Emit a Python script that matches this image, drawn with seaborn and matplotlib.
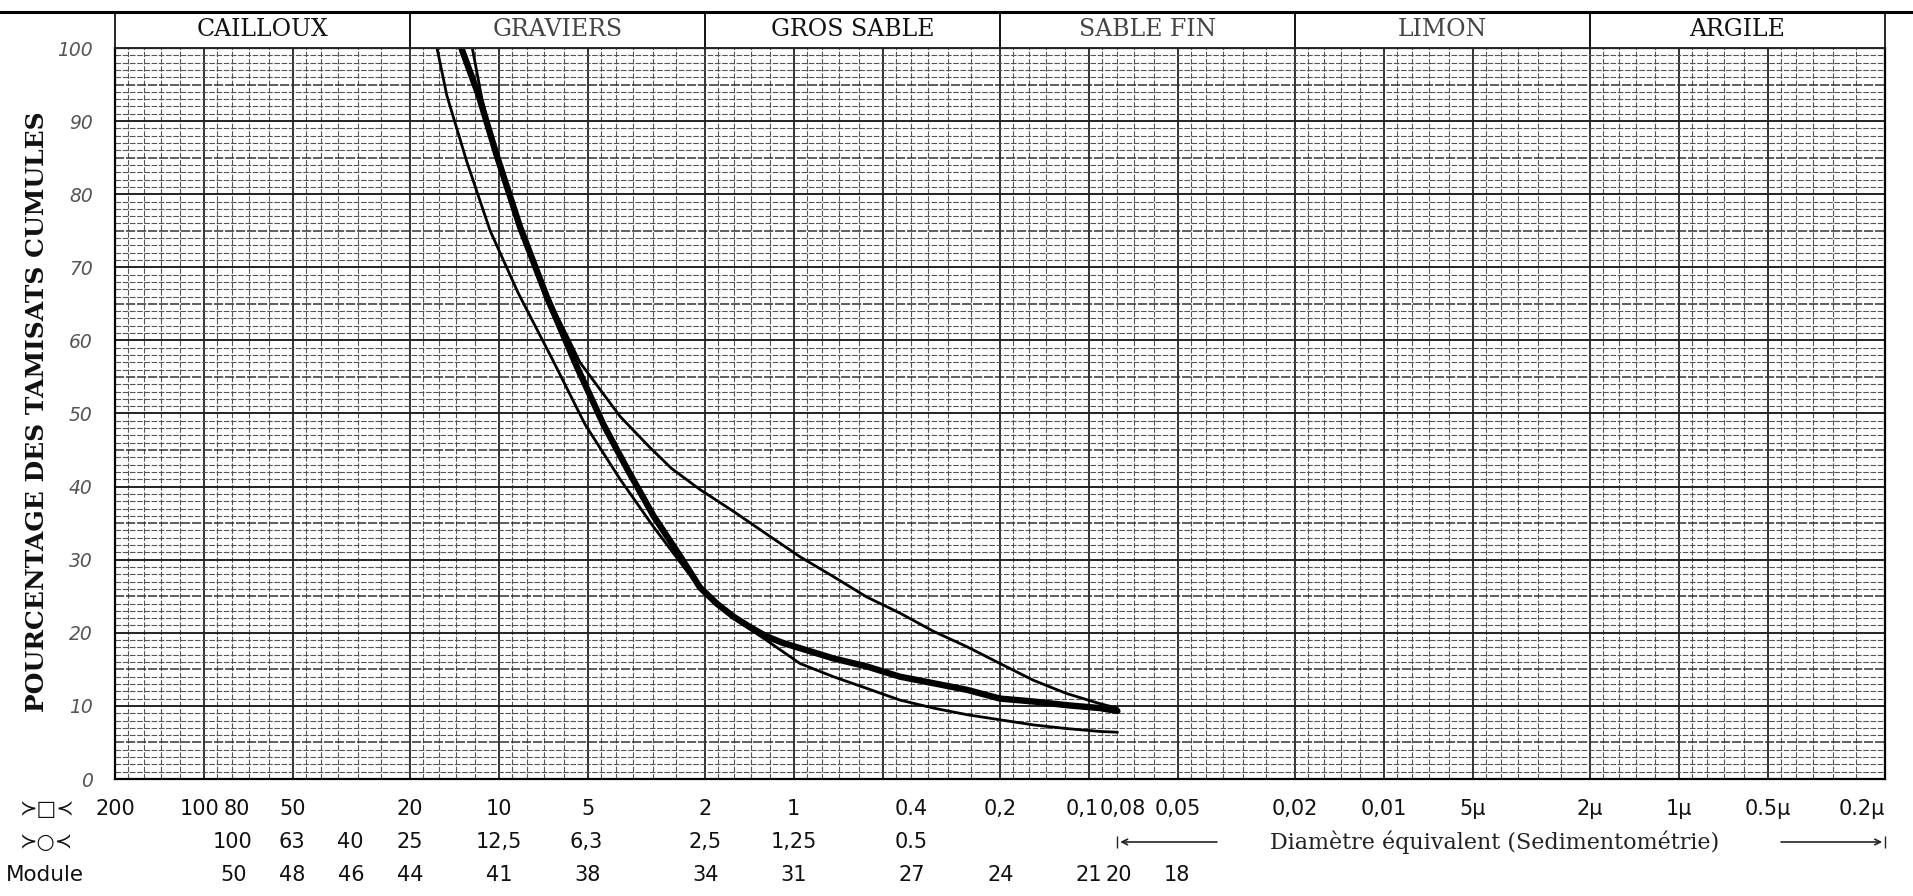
import numpy as np
import pandas as pd
import matplotlib
matplotlib.use("Agg")
import matplotlib.pyplot as plt
import matplotlib.transforms as mtransforms
from matplotlib.lines import Line2D
import seaborn as sns

# Courbes granulométriques : diamètre (mm) / tamisat cumulé (%)
fuseau_haut_d = [12.3, 11.4, 10.1, 8.4, 6.85, 5.85, 5.31, 3.88, 3.1, 2.6, 2.08, 1.60, 1.236, 0.953,
                 0.735, 0.566, 0.437, 0.336, 0.259, 0.2, 0.154, 0.119, 0.0916, 0.08]
fuseau_haut_p = [100, 93, 84.5, 75, 66, 60.5, 57.0, 49.6, 45.5, 42.5, 39.6, 36.6, 33.5, 30.4,
                 27.7, 24.9, 22.7, 20.2, 18.1, 15.8, 13.5, 11.7, 10.3, 9.7]

echantillon_d = [13.4, 11.7, 10.2, 8.47, 6.88, 5.45, 4.42, 3.68, 2.99, 2.43,
                 2.08, 1.825, 1.60, 1.41, 1.236, 1.086, 0.953, 0.735, 0.566, 0.437, 0.336,
                 0.259, 0.2, 0.154, 0.119, 0.0916, 0.08]
echantillon_p = [100, 93.5, 85.5, 75.5, 66.0, 56.5, 48.5, 42.5, 36.0, 30.5,
                 26.2, 24.0, 22.2, 20.8, 19.5, 18.6, 17.9, 16.5, 15.4, 14.0, 13.1,
                 12.2, 11.0, 10.6, 10.1, 9.7, 9.3]

fuseau_bas_d = [16.2, 15.0, 12.85, 10.7, 8.6, 6.6, 5.1, 3.88, 2.99, 2.31, 2.0, 1.6,
                1.24, 0.953, 0.735, 0.566, 0.437, 0.336, 0.259, 0.2, 0.154, 0.119, 0.0916, 0.08]
fuseau_bas_p = [100, 93.5, 84.5, 75.0, 66.5, 57.5, 48.5, 41.0, 34.5, 28.5, 25.6, 22.0,
                19.0, 15.8, 14.0, 12.4, 10.8, 9.7, 8.8, 8.1, 7.4, 6.9, 6.5, 6.4]

# Classes granulométriques (bornes en mm)
classes = ["CAILLOUX", "GRAVIERS", "GROS SABLE", "SABLE FIN", "LIMON", "ARGILE"]
class_bornes = [200, 20, 2, 0.2, 0.02, 0.002, 0.0002]

# Graduations en bas
tamis_val = [200, 100, 80, 50, 20, 10, 5, 2, 1, 0.4, 0.2, 0.1, 0.08, 0.05,
             0.02, 0.01, 0.005, 0.002, 0.001, 0.0005, 0.0002]
tamis_lbl = ["200", "100", "80", "50", "20", "10", "5", "2", "1", "0.4", "0,2", "0,1", "0,08", "0,05",
             "0,02", "0,01", "5µ", "2µ", "1µ", "0.5µ", "0.2µ"]
passoire_val = [100, 63, 40, 25, 12.5, 6.3, 2.5, 1.25, 0.5]
passoire_lbl = ["100", "63", "40", "25", "12,5", "6,3", "2,5", "1,25", "0.5"]
modules = [50, 48, 46, 44, 41, 38, 34, 31, 27, 24, 21, 20, 18]

W, H = 1913, 896
sns.set_style("white")
plt.rcParams['font.family'] = ['DejaVu Sans']

fig = plt.figure(figsize=(W / 100, H / 100), dpi=100)
ax = fig.add_axes([115 / W, 1 - 779 / H, 1770 / W, 731 / H])
ax.set_xscale('log')
ax.set_xlim(200, 0.0002)
ax.set_ylim(0, 100)

# papier semi-log
sub = [1, 1.2, 1.4, 1.6, 1.8, 2, 2.5, 3, 3.5, 4, 4.5, 5, 6, 7, 8, 9]
for k in range(-4, 3):
    for n in sub:
        v = n * 10.0 ** k
        if 0.0002 < v < 200:
            if n in (1, 2, 5):
                ax.axvline(v, color='#222222', lw=1.3, zorder=1)
            else:
                ax.axvline(v, color='#555555', lw=0.8, ls=(0, (5, 1.5)), zorder=1)
for p in range(0, 101):
    if p % 10 == 0:
        ax.axhline(p, color='#222222', lw=1.4, zorder=1)
    elif p % 5 == 0:
        ax.axhline(p, color='#333333', lw=1.1, ls=(0, (6, 1.2)), zorder=1)
    else:
        ax.axhline(p, color='#555555', lw=0.8, ls=(0, (5, 1.5)), zorder=1)

# courbes
curves = pd.DataFrame({
    'd': fuseau_haut_d + echantillon_d + fuseau_bas_d,
    'p': fuseau_haut_p + echantillon_p + fuseau_bas_p,
    'courbe': ['haut'] * len(fuseau_haut_d) + ['ech'] * len(echantillon_d) + ['bas'] * len(fuseau_bas_d),
})
for name, lw in [('haut', 2.0), ('bas', 2.0), ('ech', 4.6)]:
    sns.lineplot(data=curves[curves.courbe == name], x='d', y='p', sort=False, estimator=None,
                 color='black', lw=lw, ax=ax, zorder=5, solid_joinstyle='round', solid_capstyle='round')
ax.set_xlim(200, 0.0002)
ax.set_ylim(0, 100)

ax.set_xlabel('')
ax.set_ylabel('')
ax.set_xticks([])
ax.set_xticks([], minor=True)
ax.set_yticks(range(0, 101, 10))
ax.set_yticklabels([str(v) for v in range(0, 101, 10)], color='#555555', fontsize=13.5, style='italic')
ax.tick_params(axis='y', length=0, pad=16)
for s in ax.spines.values():
    s.set_color('black')
    s.set_linewidth(1.6)

fig.text(37 / W, 1 - 412 / H, "POURCENTAGE DES TAMISATS CUMULES", rotation=90, ha='center', va='center',
         fontsize=18, fontweight='bold', family=['DejaVu Serif'], color='#111111')

# bandeau des classes
hx = fig.add_axes([115 / W, 1 - 48 / H, 1770 / W, 36 / H])
hx.set_xscale('log')
hx.set_xlim(200, 0.0002)
hx.set_ylim(0, 1)
hx.set_xticks([])
hx.set_xticks([], minor=True)
hx.set_yticks([])
for s in hx.spines.values():
    s.set_linewidth(1.4)
for b in class_bornes[1:-1]:
    hx.axvline(b, color='black', lw=1.3)
for i, name in enumerate(classes):
    xc = np.sqrt(class_bornes[i] * class_bornes[i + 1])
    hx.text(xc, 0.52, name, ha='center', va='center', fontsize=17, family=['DejaVu Serif'],
            color='#444444' if i in (1, 3, 4) else '#111111')
fig.add_artist(Line2D([0, 1], [1 - 12 / H] * 2, transform=fig.transFigure, color='black', lw=2.2))

# lignes de graduations du bas
tr = mtransforms.blended_transform_factory(ax.transData, fig.transFigure)
y1, y2, y3 = 1 - 809 / H, 1 - 842 / H, 1 - 875 / H
# petits décalages (points) pour les étiquettes serrées
nudge = {"100": -3, "80": 3, "0,1": -5, "0,08": 4}
for v, lbl in zip(tamis_val, tamis_lbl):
    ax.annotate(lbl, xy=(v, y1), xycoords=tr, xytext=(nudge.get(lbl, 0), 0), textcoords='offset points',
                ha='right' if v == tamis_val[-1] else 'center', va='center',
                fontsize=15, color='#111111', annotation_clip=False)
for v, lbl in zip(passoire_val, passoire_lbl):
    ax.text(v / 1.25, y2, lbl, transform=tr, ha='center', va='center', fontsize=15,
            color='#111111', clip_on=False)
for m in modules:
    ax.text(10 ** ((m - 1) / 10) / 1000, y3, str(m), transform=tr, ha='center', va='center',
            fontsize=15, color='#111111', clip_on=False)

fig.text(20 / W, y1, "≻□≺", ha='left', va='center', fontsize=15, color='#111111')
fig.text(20 / W, y2, "≻○≺", ha='left', va='center', fontsize=15, color='#111111')
fig.text(6 / W, y3, "Module", ha='left', va='center', fontsize=15.5, color='#111111')

# sédimentométrie
ax.text(0.0042, y2, "Diamètre équivalent (Sedimentométrie)", transform=tr, ha='center', va='center',
        fontsize=16, family=['DejaVu Serif'], color='#222222', clip_on=False)
ax.annotate('', xy=(0.08, y2), xytext=(0.036, y2), xycoords=tr, textcoords=tr,
            arrowprops=dict(arrowstyle='->', color='#222222', lw=1.2))
ax.annotate('', xy=(0.0002, y2), xytext=(0.00046, y2), xycoords=tr, textcoords=tr,
            arrowprops=dict(arrowstyle='->', color='#222222', lw=1.2))
ax.plot([0.08, 0.0002], [y2, y2], transform=tr, ls='none', marker='|', ms=9, color='#222222',
        clip_on=False)

fig.savefig("out.png", dpi=100, facecolor='white')
